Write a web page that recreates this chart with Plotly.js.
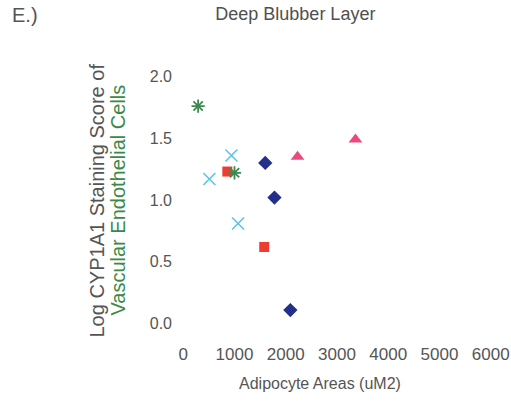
<!DOCTYPE html>
<html>
<head>
<meta charset="utf-8">
<script src="https://cdn.plot.ly/plotly-3.0.1.min.js"></script>
<style>html,body{margin:0;padding:0;background:#fff;}#chart{width:511px;height:406px;}</style>
</head>
<body>
<div id="chart"></div>
<script>
// Data
const diamondX = [1600, 1780, 2090];
const diamondY = [1.30, 1.02, 0.11];
const triangleX = [2230, 3360];
const triangleY = [1.35, 1.49];
const squareX = [860, 1580];
const squareY = [1.23, 0.62];
const crossX = [940, 510, 1070];
const crossY = [1.36, 1.17, 0.81];
const starX = [290, 1000];
const starY = [1.76, 1.22];
const xTicks = [0, 1000, 2000, 3000, 4000, 5000, 6000];
const yTicks = [0.0, 0.5, 1.0, 1.5, 2.0];
const yTickText = ["0.0", "0.5", "1.0", "1.5", "2.0"];

const traces = [
  {x: diamondX, y: diamondY, mode: 'markers', type: 'scatter',
   marker: {symbol: 'diamond', size: 11, color: '#22308c'}},
  {x: triangleX, y: triangleY, mode: 'markers', type: 'scatter',
   marker: {symbol: 'triangle-up', size: 12, color: '#ea4a80'}},
  {x: squareX, y: squareY, mode: 'markers', type: 'scatter',
   marker: {symbol: 'square', size: 10, color: '#ef3b30'}},
  {x: crossX, y: crossY, mode: 'markers', type: 'scatter',
   marker: {symbol: 'x-thin-open', size: 12, color: '#5cc4e6', line: {width: 1.6, color: '#5cc4e6'}}},
  {x: starX, y: starY, mode: 'markers', type: 'scatter',
   marker: {symbol: 'asterisk-open', size: 11, color: '#3c8a50', line: {width: 1.8, color: '#3c8a50'}}}
];

const PL = 173, PW = 327.7, PT = 64, PH = 272.8;
const px = v => (v - PL) / PW;
const py = v => (PT + PH - v) / PH;

const layout = {
  width: 511, height: 406,
  margin: {l: 173, r: 10, t: 64, b: 70},
  paper_bgcolor: '#ffffff', plot_bgcolor: '#ffffff',
  showlegend: false,
  font: {family: 'Liberation Sans, Arial, sans-serif', color: '#555555', size: 16},
  title: {text: 'Deep Blubber Layer', x: 0.578, xref: 'container', y: 0.966, yref: 'container',
          xanchor: 'center', yanchor: 'middle', font: {size: 18, color: '#505050'}},
  xaxis: {range: [-200, 6200], tickvals: xTicks, ticktext: xTicks.map(String),
          showgrid: false, zeroline: false, showline: false, ticks: '',
          tickfont: {size: 17, color: '#555555'}, ticklabelstandoff: 6},
  yaxis: {range: [-0.1, 2.1], tickvals: yTicks, ticktext: yTickText,
          showgrid: false, zeroline: false, showline: false, ticks: '',
          tickfont: {size: 16, color: '#555555'}},
  annotations: [
    {text: 'E.)', xref: 'paper', yref: 'paper', x: px(10), y: py(15), xanchor: 'left', yanchor: 'middle',
     showarrow: false, font: {size: 20, color: '#555555'}},
    {text: 'Adipocyte Areas (uM2)', xref: 'paper', yref: 'paper', x: px(320), y: py(384),
     xanchor: 'center', yanchor: 'middle', showarrow: false, font: {size: 16, color: '#555555'}},
    {text: 'Log CYP1A1 Staining Score of',
     xref: 'paper', yref: 'paper', x: px(97), y: py(201), xanchor: 'center', yanchor: 'middle',
     textangle: -90, showarrow: false, font: {size: 20, color: '#555555'}},
    {text: 'Vascular Endothelial Cells',
     xref: 'paper', yref: 'paper', x: px(118), y: py(200), xanchor: 'center', yanchor: 'middle',
     textangle: -90, showarrow: false, font: {size: 20, color: '#3a8a45'}}
  ]
};

Plotly.newPlot('chart', traces, layout, {displayModeBar: false, staticPlot: true});
</script>
</body>
</html>
